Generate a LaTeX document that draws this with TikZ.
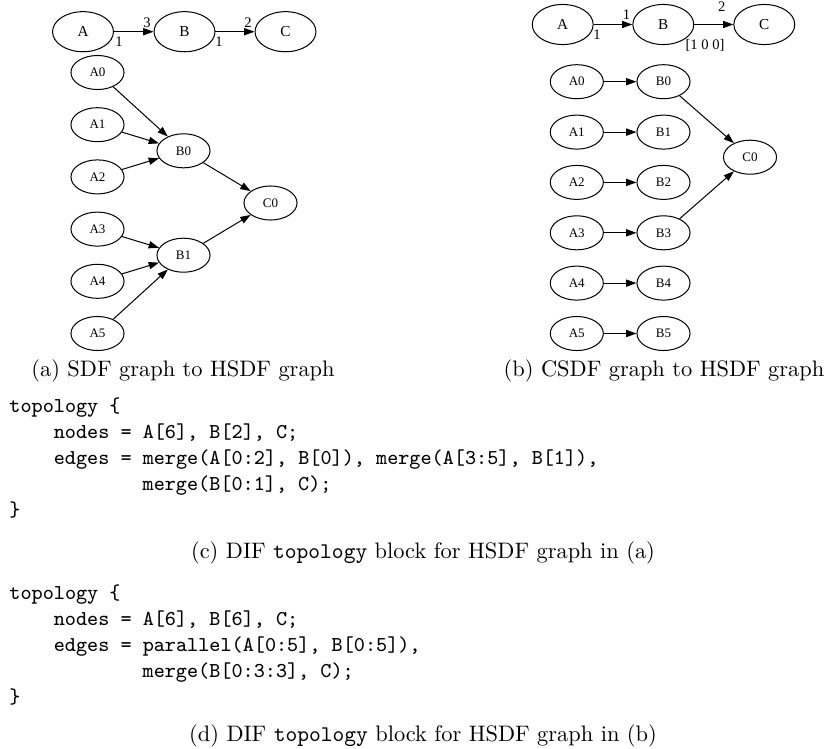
\documentclass[tikz,border=0pt]{standalone}
\usepackage{fontspec}
\newfontfamily\gv{Liberation Serif}
\usetikzlibrary{shapes.geometric,arrows.meta}
\begin{document}
\begin{tikzpicture}[x=0.4464pt,y=-0.4464pt,
  big/.style={draw, ellipse, line width=0.45pt, minimum width=27.2pt, minimum height=17.9pt, inner sep=0pt, font=\gv\fontsize{6.8}{7}\selectfont},
  small/.style={draw, ellipse, line width=0.45pt, minimum width=23.7pt, minimum height=15.2pt, inner sep=0pt, font=\gv\fontsize{5.8}{6}\selectfont},
  edge/.style={-{Triangle[length=4.6pt,width=3.2pt]}, line width=0.45pt},
  elab/.style={inner sep=0pt, font=\gv\fontsize{6.5}{7}\selectfont},
  code/.style={anchor=base west, inner sep=0pt, font=\ttfamily\fontsize{9.45}{11}\selectfont},
  captext/.style={anchor=base, inner sep=0pt, font=\fontsize{10}{12}\selectfont}]
\useasboundingbox (0,0) rectangle (827,748);

% ---- (a) top SDF graph
\node[big] (LA) at (83,31.7) {A};
\node[big] (LB) at (184.5,31.7) {B};
\node[big] (LC) at (285.5,31.7) {C};
\draw[edge] (LA) -- (LB);
\draw[edge] (LB) -- (LC);
\node[elab] (la1) at (147,23) {3};
\node[elab] (la2) at (119,42) {1};
\node[elab] (la3) at (219,42) {1};
\node[elab] (la4) at (248,23) {2};

% ---- (a) HSDF graph
\foreach \i/\y in {0/72.5,1/124.7,2/176.9,3/229.1,4/281.3,5/333.5}
  \node[small] (LA\i) at (97.5,\y) {A\i};
\node[small] (LB0) at (183.5,150.8) {B0};
\node[small] (LB1) at (183.5,255.2) {B1};
\node[small] (LC0) at (270.5,203) {C0};
\foreach \i in {0,1,2} \draw[edge] (LA\i) -- (LB0);
\foreach \i in {3,4,5} \draw[edge] (LA\i) -- (LB1);
\draw[edge] (LB0) -- (LC0);
\draw[edge] (LB1) -- (LC0);

% ---- (b) top CSDF graph
\node[big] (RA) at (562.7,24.5) {A};
\node[big] (RB) at (663.3,24.5) {B};
\node[big] (RC) at (764.3,24.5) {C};
\draw[edge] (RA) -- (RB);
\draw[edge] (RB) -- (RC);
\node[elab] (lb1) at (626.5,15) {1};
\node[elab] (lb2) at (597,35) {1};
\node[elab] (lb3) at (721.7,7) {2};
\node[elab] (lb4) at (705,45) {[1 0 0]};

% ---- (b) HSDF graph
\foreach \i/\y in {0/81.7,1/132.1,2/182.4,3/232.8,4/283.1,5/333.5}{
  \node[small] (RA\i) at (576.8,\y) {A\i};
  \node[small] (RB\i) at (663.5,\y) {B\i};
  \draw[edge] (RA\i) -- (RB\i);
}
\node[small] (RC0) at (750,157.2) {C0};
\draw[edge] (RB0) -- (RC0);
\draw[edge] (RB3) -- (RC0);

% ---- captions
\node[captext] (capa) at (183,376) {(a) SDF graph to HSDF graph};
\node[captext] (capb) at (664,376) {(b) CSDF graph to HSDF graph};

% ---- code (c)
\node[code] (c0) at (9,412) {topology \{};
\node[code] (c1) at (53.4,438) {nodes = A[6], B[2], C;};
\node[code] (c2) at (53.4,464) {edges = merge(A[0:2], B[0]), merge(A[3:5], B[1]),};
\node[code] (c3) at (142.2,490) {merge(B[0:1], C);};
\node[code] (c4) at (9,516) {\}};
\node[captext] (capc) at (423,558) {(c) DIF \texttt{topology} block for HSDF graph in (a)};

% ---- code (d)
\node[code] (d0) at (9,599) {topology \{};
\node[code] (d1) at (53.4,625) {nodes = A[6], B[6], C;};
\node[code] (d2) at (53.4,651) {edges = parallel(A[0:5], B[0:5]),};
\node[code] (d3) at (142.2,677) {merge(B[0:3:3], C);};
\node[code] (d4) at (9,703) {\}};
\node[captext] (capd) at (423,741) {(d) DIF \texttt{topology} block for HSDF graph in (b)};
\end{tikzpicture}
\end{document}
